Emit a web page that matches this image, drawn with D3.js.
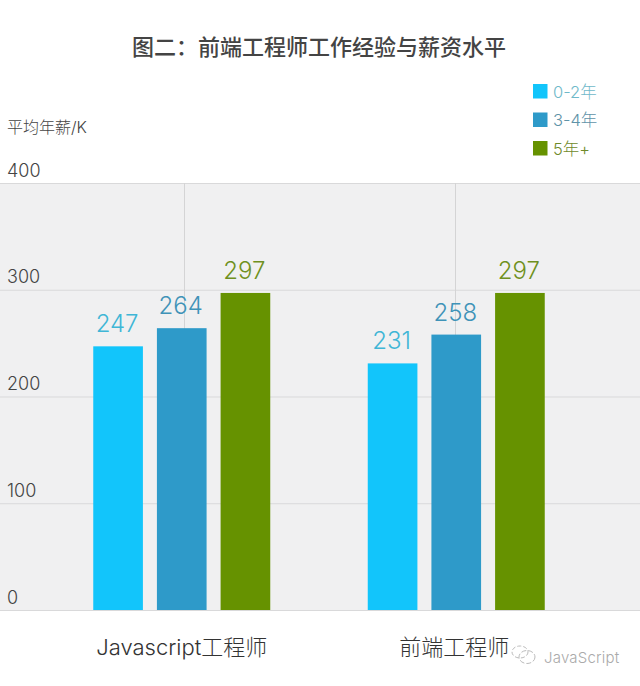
<!DOCTYPE html>
<html><head><meta charset="utf-8">
<script src="https://cdn.jsdelivr.net/npm/d3@7"></script>
<style>
html,body{margin:0;padding:0;background:#fff}
svg{display:block}
text{font-family:"Inter","Noto Sans CJK SC",sans-serif;font-weight:300}
</style></head><body>
<svg id="c" width="640" height="686"></svg>
<script>
const title = "图二：前端工程师工作经验与薪资水平";
const yUnit = "平均年薪/K";
const categories = ["Javascript工程师", "前端工程师"];
const seriesNames = ["0-2年", "3-4年", "5年+"];
const values0to2 = [247, 231];
const values3to4 = [264, 258];
const values5plus = [297, 297];
const yTicks = [0, 100, 200, 300, 400];
const watermark = "JavaScript";

const colors = ["#12c5fb", "#2e9ac9", "#669200"];
const labelColors = ["#3fb6d6", "#3f93b8", "#6f9020"];
const legendText = ["#6fb9c9", "#5f93a8", "#6f8a2a"];
const allValues = [values0to2, values3to4, values5plus];

const svg = d3.select("#c");
const y = d3.scaleLinear().domain([0, 400]).range([610, 183]);
const x0 = d3.scaleBand().domain(categories).range([44.5, 593.5]);
const x1 = d3.scaleBand().domain(seriesNames).range([0, 177]).paddingInner(0.22);
const groupX = c => x0(c) + (x0.bandwidth() - 177) / 2;

svg.append("rect").attr("x", 0).attr("width", 640)
  .attr("y", y(400)).attr("height", y(0) - y(400)).attr("fill", "#f0f0f1");

const axis = d3.axisLeft(y).tickValues(yTicks).tickSize(-640).tickFormat(d3.format("d"));
const gy = svg.append("g").call(axis);
gy.select(".domain").remove();
gy.selectAll(".tick line").attr("stroke", "#d9d9da").attr("stroke-width", 1);
gy.selectAll(".tick text")
  .attr("x", 7).attr("dy", 0).attr("y", -7)
  .attr("text-anchor", "start")
  .attr("fill", "#444").style("font-size", "18px");

svg.append("g").selectAll("line").data(categories).join("line")
  .attr("x1", (c, i) => Math.round(x0(c) + x0.bandwidth() / 2 + (i ? -1.5 : 2.5)) + 0.5)
  .attr("x2", (c, i) => Math.round(x0(c) + x0.bandwidth() / 2 + (i ? -1.5 : 2.5)) + 0.5)
  .attr("y1", y(400)).attr("y2", y(0))
  .attr("stroke", "#d4d4d5");

seriesNames.forEach((s, si) => {
  const g = svg.append("g");
  g.selectAll("rect").data(categories).join("rect")
    .attr("x", c => groupX(c) + x1(s))
    .attr("width", x1.bandwidth())
    .attr("y", (c, i) => y(allValues[si][i]))
    .attr("height", (c, i) => y(0) - y(allValues[si][i]))
    .attr("fill", colors[si]);
  g.selectAll("text").data(categories).join("text")
    .attr("x", c => groupX(c) + x1(s) + x1.bandwidth() / 2 - 1)
    .attr("y", (c, i) => y(allValues[si][i]) - 14)
    .attr("text-anchor", "middle")
    .attr("fill", labelColors[si])
    .style("font-size", "24px")
    .text((c, i) => allValues[si][i]);
});

svg.append("g").selectAll("text").data(categories).join("text")
  .attr("x", (c, i) => x0(c) + x0.bandwidth() / 2 + (i ? -2 : 0))
  .attr("y", 655)
  .attr("text-anchor", "middle")
  .attr("fill", "#333")
  .style("font-size", "22px")
  .text(c => c);

svg.append("text").attr("x", 319).attr("y", 55).attr("text-anchor", "middle")
  .attr("fill", "#444").style("font-size", "22px").style("font-weight", 500).text(title);

svg.append("text").attr("x", 7).attr("y", 133).attr("fill", "#444")
  .style("font-size", "16px").text(yUnit);

const leg = svg.append("g").selectAll("g").data(seriesNames).join("g")
  .attr("transform", (d, i) => `translate(533,${84 + i * 28.5})`);
leg.append("rect").attr("width", 14.5).attr("height", 14.5).attr("fill", (d, i) => colors[i]);
leg.append("text").attr("x", 20).attr("y", 13.5).attr("fill", (d, i) => legendText[i])
  .style("font-size", "16.5px").text(d => d);

const wm = svg.append("g").attr("transform", "translate(524,654)").attr("fill", "none").attr("stroke", "#bbb");
wm.append("ellipse").attr("cx", -4).attr("cy", -2).attr("rx", 8).attr("ry", 6).attr("stroke-dasharray", "4 2");
wm.append("ellipse").attr("cx", 3).attr("cy", 3).attr("rx", 8).attr("ry", 6.5).attr("stroke-dasharray", "5 2");
svg.append("text").attr("x", 544).attr("y", 663).attr("fill", "#aaa")
  .style("font-size", "15px").style("letter-spacing", "0.2px").text(watermark);
</script>
</body></html>
